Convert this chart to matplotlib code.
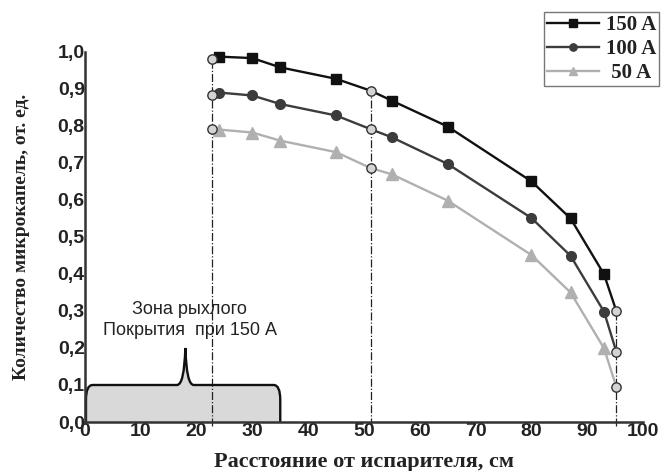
import matplotlib.pyplot as plt
import numpy as np
from matplotlib.path import Path
from matplotlib.patches import PathPatch

# measured points, distance in cm
x = [24, 30, 35, 45, 55, 65, 80, 87, 93]
y150 = [0.987, 0.983, 0.958, 0.927, 0.868, 0.798, 0.650, 0.550, 0.399]
y100 = [0.890, 0.882, 0.859, 0.828, 0.769, 0.697, 0.551, 0.449, 0.298]
y50 = [0.790, 0.782, 0.760, 0.729, 0.669, 0.598, 0.451, 0.350, 0.199]

# zone boundaries (open circles)
xb = [22.7, 51.2, 95.2]
yb150 = [0.980, 0.895, 0.300]
yb100 = [0.884, 0.791, 0.190]
yb50 = [0.791, 0.686, 0.095]

# loose coating zone
zone_start, zone_end, zone_h, zone_peak_x, zone_peak_h = 0.2, 35, 0.1, 18, 0.2

plt.rcParams['font.family'] = ['Liberation Sans', 'DejaVu Sans']

fig = plt.figure(figsize=(6.63, 4.71), dpi=100)
ax = fig.add_axes([0.128, 0.104, 0.842, 0.786])

series = [
    ('150 A', y150, yb150, '#111111', 's', 7),
    ('100 A', y100, yb100, '#3c3c3c', 'o', 7),
    ('50 A', y50, yb50, '#b0b0b0', '^', 8.5),
]

handles = []
for name, ys, ybs, col, mk, ms in series:
    xs_all = np.array(x + xb)
    ys_all = np.array(ys + ybs)
    order = np.argsort(xs_all)
    ax.plot(xs_all[order], ys_all[order], color=col, lw=1.7, zorder=3, clip_on=False)
    h, = ax.plot(x, ys, ls='none', marker=mk, ms=ms, color=col, zorder=4, clip_on=False)
    ax.scatter(xb, ybs, s=45, facecolor='#d4d4d4', edgecolor='#333333', lw=1, zorder=5, clip_on=False)
    handles.append((h, col, mk, ms, name))

# dash-dot boundary lines
for xv, yv in zip(xb, yb150):
    ax.plot([xv, xv], [-0.01, yv], color='#222222', lw=0.9, ls='-.', zorder=2, clip_on=False)

# zone shape with rounded corners and brace peak
r = 1.2
verts = [(zone_start, 0), (zone_start, zone_h * 0.6),
         (zone_start, zone_h), (zone_start + r, zone_h),
         (zone_peak_x - 1.5, zone_h),
         (zone_peak_x - 0.2, zone_h), (zone_peak_x, zone_peak_h),
         (zone_peak_x + 0.2, zone_h), (zone_peak_x + 1.5, zone_h),
         (zone_end - r, zone_h),
         (zone_end, zone_h), (zone_end, zone_h * 0.6),
         (zone_end, 0)]
codes = [Path.MOVETO, Path.LINETO,
         Path.CURVE3, Path.CURVE3,
         Path.LINETO,
         Path.CURVE3, Path.CURVE3,
         Path.CURVE3, Path.CURVE3,
         Path.LINETO,
         Path.CURVE3, Path.CURVE3,
         Path.LINETO]
ax.add_patch(PathPatch(Path(verts, codes), facecolor='#d9d9d9', edgecolor='none', zorder=1))
ax.add_patch(PathPatch(Path(verts, codes), facecolor='none', edgecolor='#111111', lw=1.7, zorder=2,
                       clip_on=False))

ax.text(18.8, 0.275, 'Зона рыхлого\nПокрытия  при 150 А', ha='center', va='center',
        fontsize=13, linespacing=1.3, color='#222222')

ax.set_xlim(0, 100)
ax.set_ylim(0, 1.0)
ax.set_xticks(range(0, 101, 10))
ax.set_yticks(np.arange(0, 1.01, 0.1))
ax.set_yticklabels([f'{v:.1f}'.replace('.', ',') for v in np.arange(0, 1.01, 0.1)])
ax.tick_params(length=0, labelsize=14, pad=1)
ax.tick_params(axis='y', pad=0)
for lab in ax.get_xticklabels() + ax.get_yticklabels():
    lab.set_fontweight('bold')
    lab.set_color('#222222')
for s in ['top', 'right']:
    ax.spines[s].set_visible(False)
for s in ['left', 'bottom']:
    ax.spines[s].set_color('#333333')
    ax.spines[s].set_linewidth(1.8)

serif = ['Liberation Serif', 'DejaVu Serif']
ax.set_xlabel('Расстояние от испарителя, см', family=serif, fontweight='bold', fontsize=16,
              color='#222222', labelpad=8)
ax.set_ylabel('Количество микрокапель, от. ед.', family=serif, fontweight='bold', fontsize=14,
              color='#222222', labelpad=20)

leg_handles = [plt.Line2D([], [], color=c, marker=m, ms=ms * 0.75, lw=1.7) for _, c, m, ms, _ in handles]
leg = fig.legend(leg_handles, ['150 A', '100 A', ' 50 A'], loc='upper right',
                 bbox_to_anchor=(0.994, 0.975), frameon=True, fancybox=False,
                 edgecolor='#555555', handlelength=2.5, handletextpad=0.3,
                 borderpad=0.15, labelspacing=0.2, borderaxespad=0,
                 prop={'family': serif, 'weight': 'bold', 'size': 15})
leg.get_frame().set_linewidth(1.0)
for t in leg.get_texts():
    t.set_color('#222222')

fig.savefig('out.png', dpi=100)
